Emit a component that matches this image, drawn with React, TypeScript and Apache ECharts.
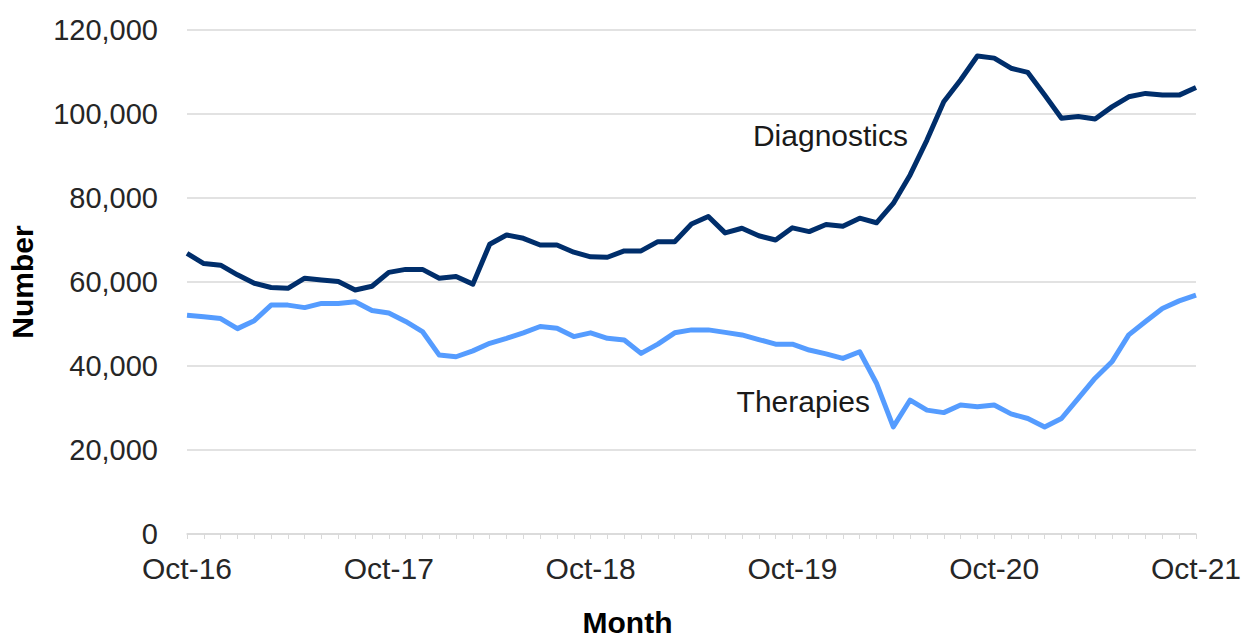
import React, { useEffect, useRef } from "react";
import * as echarts from "echarts";

const monthNames = ["Jan", "Feb", "Mar", "Apr", "May", "Jun", "Jul", "Aug", "Sep", "Oct", "Nov", "Dec"];
const months: string[] = [];
for (let k = 0; k <= 60; k++) {
  const m = (9 + k) % 12;
  const y = 16 + Math.floor((9 + k) / 12);
  months.push(`${monthNames[m]}-${y}`);
}

const diagnostics = [
  66800, 64400, 64000, 61700, 59700, 58700, 58500, 60900, 60500, 60100, 58100, 59000,
  62300, 63000, 63000, 60900, 61300, 59500, 69000, 71200, 70400, 68800, 68800, 67100,
  66000, 65900, 67400, 67400, 69600, 69600, 73800, 75600, 71700, 72800, 71000, 70000,
  72900, 72000, 73700, 73300, 75200, 74100, 78700, 85500, 93800, 102900, 108100, 113800,
  113300, 110900, 109900, 104500, 99000, 99400, 98800, 101700, 104100, 104900, 104500, 104500, 106300,
];

const therapies = [
  52100, 51700, 51300, 48900, 50800, 54500, 54500, 53900, 54900, 54900, 55300, 53200,
  52600, 50600, 48200, 42600, 42200, 43600, 45400, 46600, 47900, 49400, 49000, 47000,
  47900, 46600, 46200, 43000, 45200, 47900, 48600, 48600, 48000, 47400, 46300, 45200,
  45200, 43800, 42900, 41800, 43400, 35900, 25500, 31900, 29500, 28900, 30700, 30300,
  30700, 28600, 27500, 25500, 27500, 32300, 37100, 41000, 47400, 50600, 53700, 55500, 56900,
];

const seriesNames = ["Diagnostics", "Therapies"];
const yTicks = [0, 20000, 40000, 60000, 80000, 100000, 120000];

export default function App() {
  const ref = useRef<HTMLDivElement>(null);
  useEffect(() => {
    if (!ref.current) return;
    const chart = echarts.init(ref.current, undefined, { renderer: "svg" });
    const font = "Liberation Sans, Arial, sans-serif";
    chart.setOption({
      animation: false,
      backgroundColor: "#ffffff",
      grid: {
        left: 187,
        right: 54,
        top: 30,
        bottom: 106,
        containLabel: false,
        outerBoundsMode: "none",
      },
      xAxis: {
        type: "category",
        data: months,
        boundaryGap: false,
        name: "Month",
        nameLocation: "middle",
        nameGap: 73,
        nameTextStyle: {
          fontFamily: font,
          fontWeight: "bold",
          fontSize: 30,
          color: "#000000",
          padding: [0, 128, 0, 0],
        },
        axisLine: { show: true, lineStyle: { color: "#d9d9d9", width: 1.5 } },
        axisTick: { show: true, interval: 0, length: 5, lineStyle: { color: "#d9d9d9" } },
        axisLabel: {
          interval: 11,
          margin: 19,
          fontFamily: font,
          fontSize: 30,
          color: "#262626",
        },
        splitLine: { show: false },
      },
      yAxis: {
        type: "value",
        min: yTicks[0],
        max: yTicks[yTicks.length - 1],
        interval: 20000,
        name: "Number",
        nameLocation: "middle",
        nameGap: 150,
        nameTextStyle: {
          fontFamily: font,
          fontWeight: "bold",
          fontSize: 30,
          color: "#000000",
        },
        axisLine: { show: false },
        axisTick: { show: false },
        axisLabel: {
          margin: 29,
          fontFamily: font,
          fontSize: 29,
          color: "#262626",
          formatter: (v: number) => v.toLocaleString("en-US"),
        },
        splitLine: { show: true, lineStyle: { color: "#d9d9d9", width: 1.5 } },
      },
      series: [
        {
          name: seriesNames[0],
          type: "line",
          data: diagnostics,
          showSymbol: false,
          lineStyle: { color: "#002e6b", width: 5, join: "round" },
          itemStyle: { color: "#002e6b" },
        },
        {
          name: seriesNames[1],
          type: "line",
          data: therapies,
          showSymbol: false,
          lineStyle: { color: "#559cff", width: 5, join: "round" },
          itemStyle: { color: "#559cff" },
        },
      ],
      graphic: [
        {
          type: "text",
          right: 1250 - 908,
          top: 120,
          style: { text: seriesNames[0], font: `30px ${font}`, fill: "#1a1a1a" },
        },
        {
          type: "text",
          right: 1250 - 870,
          top: 386,
          style: { text: seriesNames[1], font: `30px ${font}`, fill: "#1a1a1a" },
        },
      ],
    });
    return () => chart.dispose();
  }, []);
  return (
    <div
      ref={ref}
      style={{ position: "fixed", left: 0, top: 0, width: 1250, height: 640, background: "#fff" }}
    />
  );
}
